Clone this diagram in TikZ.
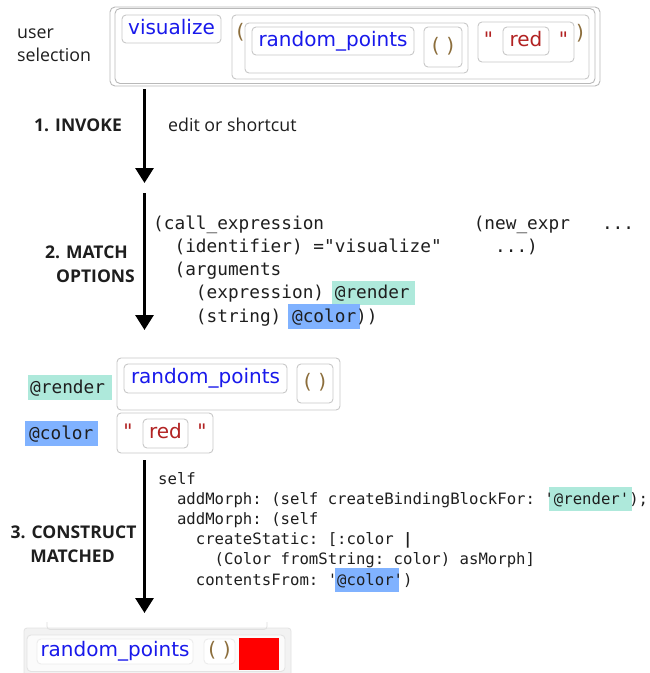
\documentclass[tikz,border=0pt]{standalone}
\usepackage{fontspec}
\setmonofont{DejaVu Sans Mono}
\newfontfamily\boxfont{DejaVu Sans}
\newfontfamily\lblfont{Open Sans}
\usetikzlibrary{arrows.meta}
\definecolor{cBlue}{RGB}{25,25,235}
\definecolor{cRed}{RGB}{178,34,34}
\definecolor{cBrown}{RGB}{140,110,60}
\definecolor{cBorder}{RGB}{200,200,200}
\definecolor{cFrame}{RGB}{185,185,185}
\definecolor{hlTeal}{RGB}{174,233,219}
\definecolor{hlBlue}{RGB}{128,178,255}
\definecolor{cText}{RGB}{30,30,30}
\newlength\hlht \newlength\hldp
\setlength\hlht{18pt}\setlength\hldp{6.5pt}
\newcommand\hl[4]{\setbox0=\hbox{#4}\rlap{\kern-#2\relax\textcolor{#1}{\rule[-\hldp]{\dimexpr\wd0+#2+#3\relax}{\dimexpr\hlht+\hldp\relax}}}\box0}
\newcommand\ind[1]{\hspace*{#1\fontcharwd\font`\x}}
\tikzset{
  blockbox/.style={draw=cBorder, line width=0.9pt, rounded corners=4pt, fill=white, inner sep=0pt,
    font=\boxfont\fontsize{20}{24}\selectfont, text height=15.2pt, text depth=4.8pt},
  framebox/.style={draw=cFrame, line width=0.9pt, rounded corners=5pt, fill=white, inner sep=0pt},
  txt/.style={inner sep=0pt, font=\boxfont\fontsize{20}{24}\selectfont},
  lbl/.style={inner sep=0pt, text=cText, font=\lblfont\fontsize{17.8}{21}\selectfont},
  lblb/.style={inner sep=0pt, text=cText, font=\lblfont\bfseries\fontsize{17.5}{21}\selectfont},
  codeA/.style={inner sep=0pt, anchor=base west, text=cText, font=\ttfamily\fontsize{17.75}{22}\selectfont},
  codeB/.style={inner sep=0pt, anchor=base west, text=cText, font=\ttfamily\fontsize{15.65}{20}\selectfont},
  arrowline/.style={line width=3pt, -{Triangle[width=18pt,length=15pt]}}
}
\newcommand\bx[7][]{\node[blockbox,minimum width={(#5)-(#3)},minimum height={(#6)-(#4)},#1] (#2) at ({((#3)+(#5))/2},{((#4)+(#6))/2}) {#7};}
\begin{document}
\begin{tikzpicture}[x=1pt,y=-1pt]
\useasboundingbox (0,0) rectangle (650,673);
\fill[white] (0,0) rectangle (650,673);

% ---------- user selection ----------
\node[lbl, anchor=base west] (lUser) at (17,38) {user};
\node[lbl, anchor=base west] (lSel) at (17,61) {selection};
\bx[framebox]{frameO}{110}{7}{600}{86}{}
\bx[framebox]{frameI}{115}{8.5}{595}{83.5}{}
\bx[text=cBlue]{visA}{122}{15}{221}{43}{visualize}
\bx{argsA}{232}{15}{589}{79}{}
\node[txt, text=cBrown, anchor=base] (lpA) at (240.5,38) {(};
\node[txt, text=cBrown, anchor=base] (rpA) at (580,39.5) {)};
\bx{callA}{245}{23}{468}{73}{}
\bx[text=cBlue]{rpointsA}{252}{27}{414}{55}{random\_points}
\bx[text=cBrown]{parA}{424}{27}{462}{67}{(\,\,)}
\bx{strA}{478}{22}{574}{62}{}
\node[txt, text=cRed, anchor=base] (q1A) at (488.5,46) {"};
\bx[text=cRed]{redA}{503}{27}{549}{55}{red}
\node[txt, text=cRed, anchor=base] (q2A) at (563.5,46) {"};

% ---------- step 1 ----------
\coordinate (a1s) at (144.5,89);
\coordinate (a1e) at (144.5,183);
\draw[arrowline] (a1s) -- (a1e);
\node[lblb, anchor=base east] (st1) at (122,131) {1. INVOKE};
\node[lbl, anchor=base west] (st1b) at (168,131) {edit or shortcut};

% ---------- step 2 ----------
\coordinate (a2s) at (144.5,193);
\coordinate (a2e) at (144.5,330);
\draw[arrowline] (a2s) -- (a2e);
\node[lblb, anchor=base east] (st2a) at (128,258) {2. MATCH};
\node[lblb, anchor=base east] (st2b) at (135,282) {OPTIONS};

\node[codeA] (c2l1) at (153,229) {(call\_expression\ind{14}(new\_expr\ind{3}...};
\node[codeA] (c2l2) at (153,252.25) {\ind{2}(identifier) ="visualize"\ind{5}...)};
\node[codeA] (c2l3) at (153,275.5) {\ind{2}(arguments};
\node[codeA] (c2l4) at (153,298.75) {\ind{4}(expression) \hl{hlTeal}{3pt}{5pt}{@render}};
\node[codeA] (c2l5) at (153,322) {\ind{4}(string) \hl{hlBlue}{4pt}{4pt}{@color}))};

% ---------- matched results ----------
\node[codeA] (mRender) at (30,393) {\hl{hlTeal}{2pt}{7pt}{@render}};
\bx{grpB}{117}{358}{340}{410}{}
\bx[text=cBlue]{rpointsB}{124}{364}{287}{393}{random\_points}
\bx[text=cBrown]{parB}{297}{364}{333}{403}{(\,\,)}
\node[codeA] (mColor) at (29,439) {\hl{hlBlue}{4pt}{5pt}{@color}};
\bx{strB}{117}{413}{213}{453}{}
\node[txt, text=cRed, anchor=base] (q1B) at (128,438) {"};
\bx[text=cRed]{redB}{143}{419}{188}{448}{red}
\node[txt, text=cRed, anchor=base] (q2B) at (202,438) {"};

% ---------- step 3 ----------
\coordinate (a3s) at (144.5,460);
\coordinate (a3e) at (144.5,613);
\draw[arrowline] (a3s) -- (a3e);
\node[lblb, anchor=base] (st3a) at (73.5,538) {3. CONSTRUCT};
\node[lblb, anchor=base] (st3b) at (72.5,562) {MATCHED};

\setlength\hlht{17.5pt}\setlength\hldp{7pt}
\node[codeB] (c3l1) at (158,484) {self};
\node[codeB] (c3l2) at (158,504.2) {\ind{2}addMorph: (self createBindingBlockFor: \hl{hlTeal}{-4pt}{3pt}{'@render'});};
\node[codeB] (c3l3) at (158,524.4) {\ind{2}addMorph: (self};
\node[codeB] (c3l4) at (158,544.6) {\ind{4}createStatic: [:color \textbf{|}};
\node[codeB] (c3l5) at (158,564.8) {\ind{6}(Color fromString: color) asMorph]};
\node[codeB] (c3l6) at (158,585) {\ind{4}contentsFrom: '\hl{hlBlue}{2pt}{-4.5pt}{@color'})};

% ---------- result ----------
\fill[gray!10, draw=gray!22, line width=0.8pt, rounded corners=3pt] (24,628) rectangle (291,690);
\draw[gray!25, line width=0.8pt, rounded corners=3pt] (47,622) -- (47,629.5) -- (267,629.5) -- (267,622);
\bx[fill=gray!3, draw=gray!22]{outC}{27}{635}{285}{671.5}{}
\bx[text=cBlue, draw=gray!15]{rpointsC}{37}{639}{193}{664}{random\_points}
\bx[text=cBrown, draw=gray!15]{parC}{204}{639}{235}{664}{(\,\,)}
\node[fill=red, inner sep=0pt, minimum width=40pt, minimum height=32pt] (redC) at (259,654) {};
\end{tikzpicture}
\end{document}
